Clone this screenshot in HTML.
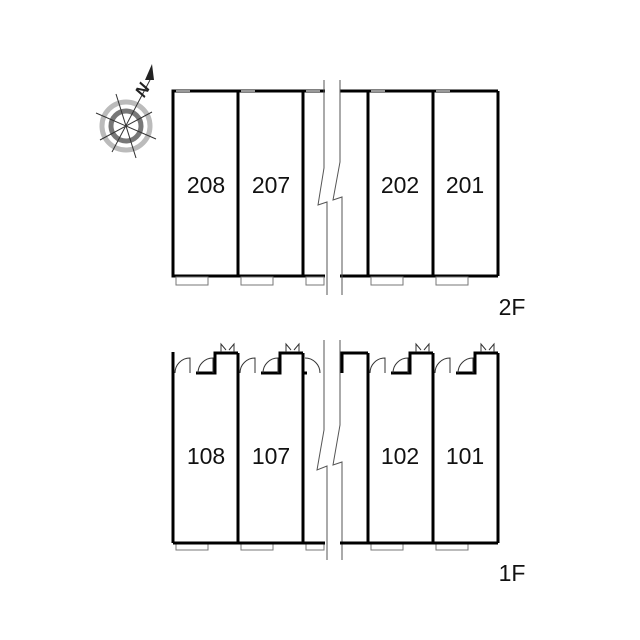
<!DOCTYPE html>
<html><head><style>body{margin:0;background:#fff}svg{display:block}</style></head><body>
<svg width="640" height="640" viewBox="0 0 640 640" xmlns="http://www.w3.org/2000/svg" font-family="Liberation Sans, sans-serif">
<rect width="640" height="640" fill="#fff"/>
<g>
<circle cx="126" cy="126" r="24" fill="none" stroke="#bbb" stroke-width="5"/>
<circle cx="126" cy="126" r="15" fill="none" stroke="#777" stroke-width="5"/>
<g stroke="#333" stroke-width="1">
<line x1="96" y1="113" x2="156" y2="139"/><line x1="116" y1="94" x2="136" y2="158"/>
<line x1="100" y1="140" x2="152" y2="112"/><line x1="112" y1="152" x2="150" y2="80"/>
</g>
<polygon points="152,64 145,80 154,80" fill="#222"/>
<text x="136" y="96" font-size="17" font-weight="bold" font-style="italic" fill="#222" transform="rotate(-60 142 90)">N</text>
</g>
<g stroke="#000" fill="none">
<rect x="173" y="91" width="130" height="185" stroke-width="3"/>
<line x1="238" y1="91" x2="238" y2="276" stroke-width="3"/>
<line x1="303" y1="91" x2="325" y2="91" stroke-width="3"/><line x1="303" y1="276" x2="325" y2="276" stroke-width="3"/>
<line x1="340" y1="91" x2="498" y2="91" stroke-width="3"/><line x1="340" y1="276" x2="498" y2="276" stroke-width="3"/>
<line x1="368" y1="91" x2="368" y2="276" stroke-width="3"/>
<line x1="433" y1="91" x2="433" y2="276" stroke-width="3"/>
<line x1="498" y1="91" x2="498" y2="276" stroke-width="3"/>
<g stroke="#555" stroke-width="1">
<polyline points="324,80 324,168 318,205 327,202 327,295"/>
<polyline points="340,80 340,162 333,200 342,197 342,295"/>
<polyline points="324,340 324,430 317,470 327,466 327,560"/>
<polyline points="340,340 340,425 333,465 342,462 342,560"/>
</g>
<g stroke="#777" stroke-width="1">
<rect x="176" y="277" width="32" height="8"/><rect x="241" y="277" width="32" height="8"/><rect x="306" y="277" width="18" height="8"/>
<rect x="371" y="277" width="32" height="8"/><rect x="436" y="277" width="32" height="8"/>
<rect x="176" y="543" width="32" height="7"/><rect x="241" y="543" width="32" height="7"/><rect x="306" y="543" width="18" height="7"/>
<rect x="371" y="543" width="32" height="7"/><rect x="436" y="543" width="32" height="7"/>
</g>
<g stroke="#999" stroke-width="2">
<line x1="176" y1="91" x2="190" y2="91"/><line x1="241" y1="91" x2="255" y2="91"/><line x1="306" y1="91" x2="320" y2="91"/>
<line x1="371" y1="91" x2="385" y2="91"/><line x1="436" y1="91" x2="450" y2="91"/>
</g>
<g stroke-width="3">
<line x1="173" y1="352" x2="173" y2="543"/><line x1="173" y1="543" x2="325" y2="543"/><line x1="340" y1="543" x2="498" y2="543"/>
<line x1="238" y1="353" x2="238" y2="543"/><line x1="303" y1="353" x2="303" y2="543"/>
<line x1="368" y1="353" x2="368" y2="543"/><line x1="433" y1="353" x2="433" y2="543"/><line x1="498" y1="353" x2="498" y2="543"/>
<polyline points="196,373 215,373 215,353 238,353"/>
<polyline points="261,373 280,373 280,353 303,353"/>
<line x1="303" y1="373" x2="307" y2="373"/>
<polyline points="342,373 342,353 368,353"/>
<polyline points="391,373 410,373 410,353 433,353"/>
<polyline points="456,373 475,373 475,353 498,353"/>
</g>
<g stroke="#333" stroke-width="1">
<path d="M175,373 A15,15 0 0 1 190,358 L190,373"/><path d="M198,373 A15,15 0 0 1 213,358 L213,373"/>
<path d="M240,373 A15,15 0 0 1 255,358 L255,373"/><path d="M263,373 A15,15 0 0 1 278,358 L278,373"/>
<path d="M305,358 A15,15 0 0 1 320,373"/>
<path d="M370,373 A15,15 0 0 1 385,358 L385,373"/><path d="M393,373 A15,15 0 0 1 408,358 L408,373"/>
<path d="M435,373 A15,15 0 0 1 450,358 L450,373"/><path d="M458,373 A15,15 0 0 1 473,358 L473,373"/>
<path d="M221,352 L221,344 L226,350 M234,352 L234,344 L229,350"/>
<path d="M286,352 L286,344 L291,350 M299,352 L299,344 L294,350"/>
<path d="M416,352 L416,344 L421,350 M429,352 L429,344 L424,350"/>
<path d="M481,352 L481,344 L486,350 M494,352 L494,344 L489,350"/>
</g>
</g>
<g font-size="23" fill="#111" text-anchor="middle">
<text x="206" y="193">208</text><text x="271" y="193">207</text><text x="400" y="193">202</text><text x="465" y="193">201</text>
<text x="206" y="464">108</text><text x="271" y="464">107</text><text x="400" y="464">102</text><text x="465" y="464">101</text>
<text x="512" y="315">2F</text><text x="512" y="581">1F</text>
</g>
</svg>
</body></html>
